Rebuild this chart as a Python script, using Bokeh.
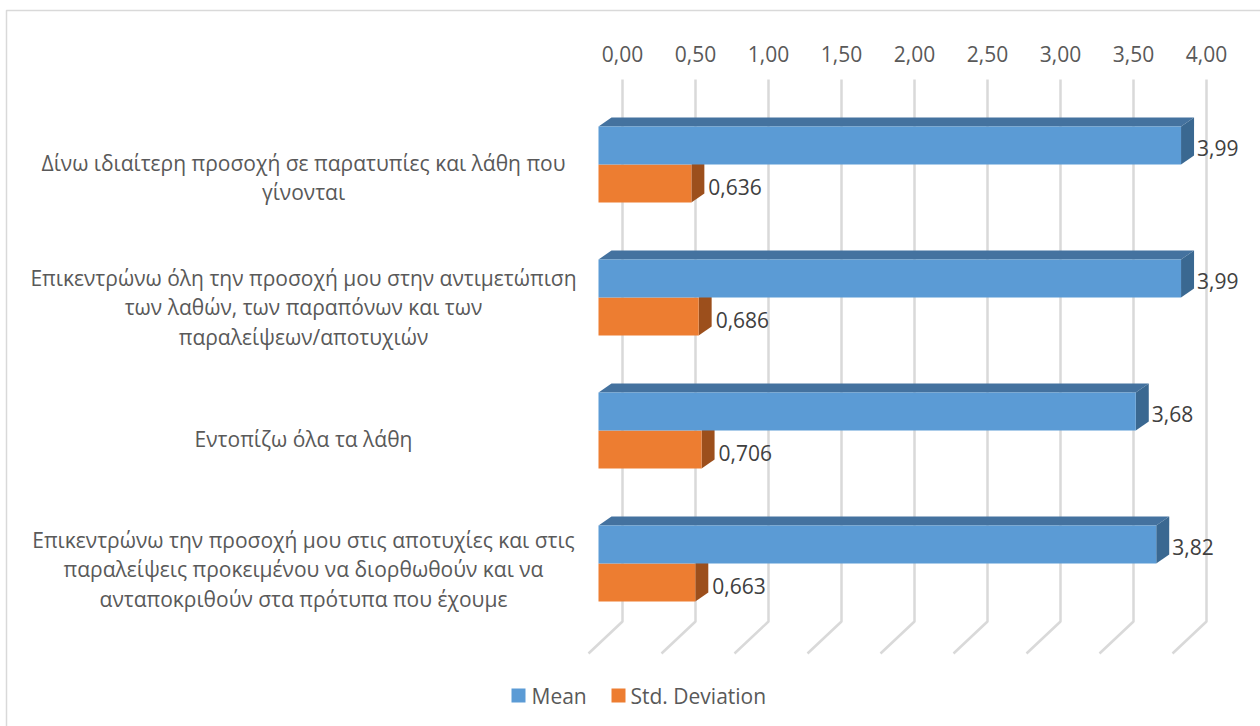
from bokeh.plotting import figure
from bokeh.models import Range1d
from bokeh.core.properties import value
from bokeh.embed import file_html
from bokeh.resources import INLINE

# ---------------- data ----------------
categories = [
    "Δίνω ιδιαίτερη προσοχή σε παρατυπίες και λάθη που\nγίνονται",
    "Επικεντρώνω όλη την προσοχή μου στην αντιμετώπιση\nτων λαθών, των παραπόνων και των\nπαραλείψεων/αποτυχιών",
    "Εντοπίζω όλα τα λάθη",
    "Επικεντρώνω την προσοχή μου στις αποτυχίες και στις\nπαραλείψεις προκειμένου να διορθωθούν και να\nανταποκριθούν στα πρότυπα που έχουμε",
]
mean = [3.99, 3.99, 3.68, 3.82]
std_dev = [0.636, 0.686, 0.706, 0.663]
mean_labels = ["3,99", "3,99", "3,68", "3,82"]
std_labels = ["0,636", "0,686", "0,706", "0,663"]
ticks = [0.0, 0.5, 1.0, 1.5, 2.0, 2.5, 3.0, 3.5, 4.0]
tick_labels = ["0,00", "0,50", "1,00", "1,50", "2,00", "2,50", "3,00", "3,50", "4,00"]
series_names = ["Mean", "Std. Deviation"]

# ---------------- layout constants (pixels) ----------------
W, H = 1260, 726
X0, SX = 598.0, 146.0   # pixel of value 0 on front plane, pixels per unit
Y0, SY = 164.0, 133.0   # pixel of first row centre, pixels per row
LABEL_SHIFT = [13, 10, 8, 6]  # vertical pixel shift of category labels


def px_x(px):
    return (px - X0) / SX


def px_y(py):
    return (py - Y0) / SY


def dx(p):
    return p / SX


def dy(p):
    return p / SY


BLUE = "#5B9BD5"
BLUE_TOP = "#44729F"
BLUE_SIDE = "#3A6891"
ORANGE = "#ED7D31"
ORANGE_SIDE = "#9C4F1C"
GRID = "#D9D9D9"
AXIS_TXT = "#595959"
DATA_TXT = "#404040"
FONT = "Open Sans"
FS = "21px"

p = figure(width=W, height=H, output_backend="svg", toolbar_location=None,
           x_range=Range1d(px_x(0), px_x(W)), y_range=Range1d(px_y(H), px_y(0)),
           x_axis_type=None, y_axis_type=None, min_border=0,
           outline_line_color=None, background_fill_color="white",
           border_fill_color="white")
p.grid.visible = False

# chart border
p.quad(left=[px_x(6)], right=[px_x(W + 20)], top=[px_y(10)], bottom=[px_y(H + 20)],
       fill_color=None, line_color=GRID, line_width=1.5)

# gridlines (back wall + floor)
back_off = dx(24)
g_xs, g_ys = [], []
for t in ticks:
    gx = t + back_off
    g_xs.append([gx, gx, gx - dx(34)])
    g_ys.append([px_y(79), px_y(621), px_y(653)])
p.multi_line(xs=g_xs, ys=g_ys, line_color=GRID, line_width=2.5)

# tick labels (top axis)
p.text(x=[t + back_off for t in ticks], y=[px_y(53)] * len(ticks), text=tick_labels,
       text_align="center", text_baseline="middle", text_color=AXIS_TXT,
       text_font=value(FONT), text_font_size=FS)

# bars
rows = list(range(len(categories)))
bh = dy(38)
blue_y = [r - bh / 2 for r in rows]
orange_y = [r + bh / 2 for r in rows]
ddx, ddy = dx(13), dy(9)

# orange side faces
os_xs, os_ys = [], []
for v, yc in zip(std_dev, orange_y):
    top, bot = yc - bh / 2, yc + bh / 2
    os_xs.append([v, v + ddx, v + ddx, v])
    os_ys.append([top, top - ddy, bot - ddy, bot])
p.patches(xs=os_xs, ys=os_ys, fill_color=ORANGE_SIDE, line_color=None)
p.hbar(y=orange_y, left=0, right=std_dev, height=bh, fill_color=ORANGE, line_color=None)

# blue bars: top and side faces
bt_xs, bt_ys, bs_xs, bs_ys = [], [], [], []
for v, yc in zip(mean, blue_y):
    top, bot = yc - bh / 2, yc + bh / 2
    bt_xs.append([0, v, v + ddx, ddx])
    bt_ys.append([top, top, top - ddy, top - ddy])
    bs_xs.append([v, v + ddx, v + ddx, v])
    bs_ys.append([top, top - ddy, bot - ddy, bot])
p.patches(xs=bt_xs, ys=bt_ys, fill_color=BLUE_TOP, line_color=None)
p.patches(xs=bs_xs, ys=bs_ys, fill_color=BLUE_SIDE, line_color=None)
p.hbar(y=blue_y, left=0, right=mean, height=bh, fill_color=BLUE, line_color=None)

# data labels
p.text(x=[v + ddx + dx(3) for v in mean], y=[yc + dy(2) for yc in blue_y], text=mean_labels,
       text_align="left", text_baseline="middle", text_color=DATA_TXT,
       text_font=value(FONT), text_font_size=FS)
p.text(x=[v + ddx + dx(4) for v in std_dev], y=[yc + dy(3) for yc in orange_y], text=std_labels,
       text_align="left", text_baseline="middle", text_color=DATA_TXT,
       text_font=value(FONT), text_font_size=FS)

# category labels
p.text(x=[px_x(303)] * len(rows), y=[r + dy(s) for r, s in zip(rows, LABEL_SHIFT)], text=categories,
       text_align="center", text_baseline="middle", text_color=AXIS_TXT,
       text_font=value(FONT), text_font_size=FS, text_line_height=1.04)

# legend
p.scatter(x=[px_x(518), px_x(618)], y=[px_y(695), px_y(695)], marker="square", size=14,
          fill_color=[BLUE, ORANGE], line_color=None)
p.text(x=[px_x(531), px_x(630)], y=[px_y(695), px_y(695)], text=series_names,
       text_align="left", text_baseline="middle", text_color=AXIS_TXT,
       text_font=value(FONT), text_font_size=FS)

open("out.html", "w").write(file_html(p, INLINE))
